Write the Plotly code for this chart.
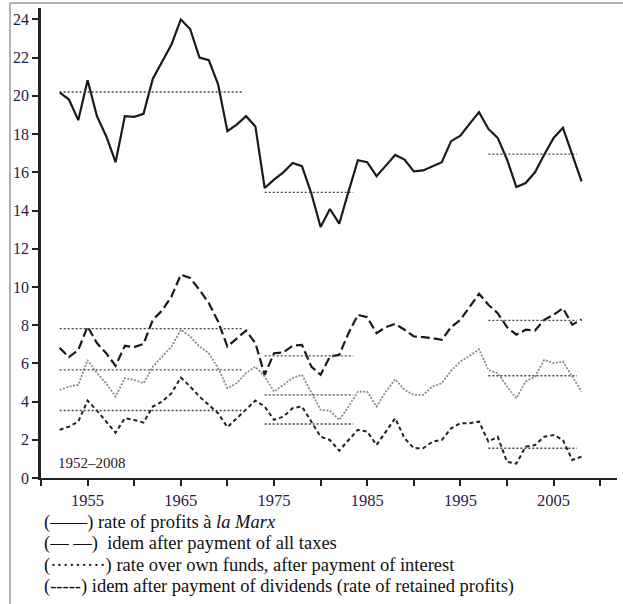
import plotly.graph_objects as go

years = list(range(1952, 2009))

marx = [20.19, 19.81, 18.73, 20.82, 18.94, 17.89, 16.53, 18.94, 18.90, 19.06,
        20.90, 21.82, 22.69, 24.00, 23.50, 22.00, 21.87, 20.60, 18.15, 18.50,
        18.94, 18.40, 15.18, 15.62, 16.00, 16.49, 16.32, 14.90, 13.14, 14.08,
        13.31, 15.00, 16.63, 16.53, 15.80, 16.35, 16.91, 16.67, 16.05, 16.10,
        16.32, 16.53, 17.63, 17.92, 18.55, 19.15, 18.27, 17.80, 16.67, 15.23,
        15.44, 16.00, 16.93, 17.80, 18.33, 16.93, 15.53]

after_taxes = [6.81, 6.33, 6.70, 7.93, 7.06, 6.53, 5.87, 6.92, 6.85, 7.02,
               8.28, 8.77, 9.50, 10.64, 10.47, 9.85, 9.16, 8.19, 6.88, 7.32,
               7.72, 7.06, 5.40, 6.53, 6.57, 6.92, 6.97, 5.83, 5.40, 6.36,
               6.45, 7.58, 8.54, 8.42, 7.58, 7.90, 8.07, 7.76, 7.41, 7.37,
               7.32, 7.23, 7.90, 8.28, 8.98, 9.64, 9.07, 8.63, 7.90, 7.50,
               7.76, 7.72, 8.28, 8.54, 8.89, 8.02, 8.30]

own_funds = [4.61, 4.79, 4.87, 6.18, 5.49, 4.96, 4.26, 5.23, 5.14, 4.96,
             5.83, 6.36, 6.88, 7.76, 7.41, 6.88, 6.53, 5.75, 4.70, 4.96,
             5.49, 5.83, 5.31, 4.52, 4.87, 5.23, 5.40, 4.50, 3.56, 3.52,
             3.04, 3.74, 4.52, 4.52, 3.74, 4.52, 5.17, 4.61, 4.35, 4.35,
             4.79, 4.96, 5.62, 6.10, 6.39, 6.74, 5.66, 5.49, 4.79, 4.17,
             5.05, 5.31, 6.18, 6.01, 6.10, 5.31, 4.52]

retained = [2.52, 2.69, 2.95, 4.05, 3.53, 2.95, 2.37, 3.13, 3.04, 2.90,
            3.74, 4.00, 4.44, 5.26, 4.79, 4.26, 3.83, 3.39, 2.66, 3.13,
            3.56, 4.05, 3.74, 3.04, 3.21, 3.65, 3.74, 2.95, 2.16, 1.99,
            1.43, 1.99, 2.52, 2.43, 1.73, 2.43, 3.13, 2.08, 1.56, 1.56,
            1.90, 1.99, 2.60, 2.87, 2.87, 2.95, 1.90, 2.16, 0.85, 0.75,
            1.64, 1.73, 2.16, 2.25, 1.99, 0.94, 1.12]

period_start = [1952, 1974, 1998]
period_end = [1971.7, 1983.5, 2007.5]
avg_marx = [20.2, 14.95, 16.95]
avg_taxes = [7.82, 6.39, 8.25]
avg_own = [5.66, 4.35, 5.35]
avg_retained = [3.53, 2.83, 1.56]

y_ticks = list(range(0, 25, 2))
x_ticks = list(range(1950, 2011, 5))
x_labels = [str(v) if v % 10 == 5 else "" for v in x_ticks]

legend_lines = [
    "(——) rate of profits à <i>la Marx</i>",
    "(— —)  idem after payment of all taxes",
    "(·········) rate over own funds, after payment of interest",
    "(-----) idem after payment of dividends (rate of retained profits)",
]
period_label = "1952–2008"

FONT = "Liberation Serif"
W, H = 623, 604
ML, MR, MT, MB = 41, 6, 8, 126
PW, PH = W - ML - MR, H - MT - MB


def px(xx):
    return (xx - ML) / PW


def py(yy):
    return (H - MB - yy) / PH


fig = go.Figure()

series = [
    (marx, dict(color="#1a1a1a", width=2.2, dash="solid")),
    (after_taxes, dict(color="#1a1a1a", width=2.2, dash="9px,4px")),
    (own_funds, dict(color="#8a8a8a", width=1.8, dash="2px,1.5px")),
    (retained, dict(color="#222222", width=2.0, dash="4px,3px")),
]
for vals, ln in series:
    fig.add_trace(go.Scatter(x=years, y=vals, mode="lines", line=ln,
                             hoverinfo="skip", showlegend=False))

for avgs in (avg_marx, avg_taxes, avg_own, avg_retained):
    for s, e, a in zip(period_start, period_end, avgs):
        fig.add_trace(go.Scatter(x=[s, e], y=[a, a], mode="lines",
                                 line=dict(color="#444444", width=1.4, dash="2px,2px"),
                                 hoverinfo="skip", showlegend=False))

fig.add_annotation(x=px(56), y=py(463), xref="paper", yref="paper", text=period_label,
                   showarrow=False, xanchor="left", yanchor="middle",
                   font=dict(family=FONT, size=15, color="#222"))

legend_y = [522, 543.5, 565, 586.5]
for txt, yy in zip(legend_lines, legend_y):
    fig.add_annotation(x=px(42), y=py(yy), xref="paper", yref="paper",
                       text=txt, showarrow=False, xanchor="left", yanchor="middle",
                       font=dict(family=FONT, size=18.5, color="#111"))

# frame of the picture (left and top edges)
fig.add_shape(type="line", xref="paper", yref="paper",
              x0=px(10), x1=px(10), y0=py(H), y1=py(3),
              line=dict(color="#9a9a9a", width=1.5))
fig.add_shape(type="line", xref="paper", yref="paper",
              x0=px(10), x1=px(W), y0=py(3), y1=py(3),
              line=dict(color="#9a9a9a", width=1.5))

fig.update_layout(
    width=W, height=H,
    margin=dict(l=ML, r=MR, t=MT, b=MB),
    paper_bgcolor="white", plot_bgcolor="white",
    font=dict(family=FONT, color="#111"),
    xaxis=dict(range=[1950, 2011.8], tickvals=x_ticks, ticktext=x_labels,
               ticks="outside", ticklen=6, tickwidth=1.5, tickcolor="#222",
               showline=True, linecolor="#222", linewidth=2,
               showgrid=False, zeroline=False,
               tickfont=dict(family=FONT, size=16.5, color="#2a1a4a")),
    yaxis=dict(range=[0, 24.6], tickvals=y_ticks,
               ticks="outside", ticklen=6, tickwidth=1.5, tickcolor="#222",
               showline=True, linecolor="#222", linewidth=2.5,
               showgrid=False, zeroline=False,
               tickfont=dict(family=FONT, size=16, color="#2a1a4a")),
)

fig.write_html("out.html", config={"displayModeBar": False},
               post_script="document.body.style.margin='0';")
